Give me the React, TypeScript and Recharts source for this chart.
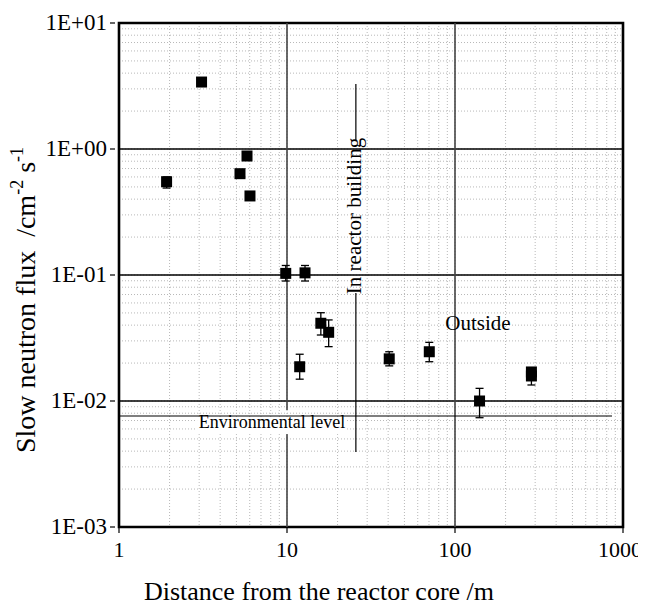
import React from 'react';
import {
    ScatterChart,
    Scatter,
    XAxis,
    YAxis,
    CartesianGrid,
    ErrorBar,
    ReferenceLine,
    ReferenceArea,
    ReferenceDot
} from 'recharts';

const FONT = '"Liberation Serif", "Times New Roman", serif';

// Measured points: distance (m), flux and the error bar bounds
const distance = [1.92, 3.1, 5.25, 5.78, 6.02, 9.83, 12.8, 11.9, 15.9, 17.7, 40.6, 70.3, 140, 285, 285];
const flux = [0.55, 3.4, 0.637, 0.88, 0.424, 0.103, 0.104, 0.0187, 0.0414, 0.0351, 0.0216, 0.0246, 0.01, 0.0158, 0.017];
const fluxLow = [0.49, 3.4, 0.637, 0.88, 0.424, 0.0896, 0.0896, 0.0149, 0.0334, 0.027, 0.019, 0.0205, 0.00737, 0.0134, 0.017];
const fluxHigh = [0.6, 3.4, 0.637, 0.88, 0.424, 0.119, 0.119, 0.0235, 0.0502, 0.044, 0.0246, 0.0292, 0.0126, 0.0183, 0.017];

// Axes
const xDecades = [1, 10, 100, 1000];
const xTickLabels = ['1', '10', '100', '1000'];
const yDecades = [0.001, 0.01, 0.1, 1, 10];
const yTickLabels = ['1E-03', '1E-02', '1E-01', '1E+00', '1E+01'];
const minorSteps = [1, 2, 3, 4, 5, 6, 7, 8, 9];

const xGrid = xDecades.slice(0, -1).flatMap((d) => minorSteps.map((m) => m * d)).concat([1000]);
const yGrid = yDecades.slice(0, -1).flatMap((d) => minorSteps.map((m) => m * d)).concat([10]);

// Annotations
const envLevel = 0.0076;
const envLineEnd = 860;
const buildingX = 25.7;
const buildingTop = 3.28;
const buildingBottom = 0.00394;
const buildingTextTop = 1.18;
const buildingTextBottom = 0.072;

const data = distance.map((x, i) => ({
    x,
    y: flux[i],
    err: [flux[i] - fluxLow[i], fluxHigh[i] - flux[i]],
}));

const decadeIndex = (list: number[], v: number) =>
    list.findIndex((d) => Math.abs(d - v) < d * 1e-6);

const XTick = (props: any) => {
    const { x, y, payload } = props;
    const i = decadeIndex(xDecades, payload.value);
    if (i < 0) return <g />;
    // the last label is kept inside the page edge
    const last = i === xDecades.length - 1;
    return (
        <g>
            <line x1={x} x2={x} y1={y} y2={y + 6} stroke="#000" strokeWidth={1.2} />
            <text
                x={last ? x + 19 : x}
                y={y + 30}
                textAnchor={last ? 'end' : 'middle'}
                fontSize={22}
                fontFamily={FONT}
                fill="#000"
            >
                {xTickLabels[i]}
            </text>
        </g>
    );
};

const YTick = (props: any) => {
    const { x, y, payload } = props;
    const i = decadeIndex(yDecades, payload.value);
    if (i < 0) return <g />;
    return (
        <g>
            <line x1={x - 9} x2={x - 4} y1={y} y2={y} stroke="#000" strokeWidth={1.2} />
            <text x={x - 12} y={y + 7} textAnchor="end" fontSize={23} fontFamily={FONT} fill="#000">
                {yTickLabels[i]}
            </text>
        </g>
    );
};

const Square = (props: any) => {
    const { cx, cy } = props;
    return <rect x={cx - 5.5} y={cy - 5.5} width={11} height={11} fill="#000" />;
};

const XTitle = (props: any) => {
    const { viewBox } = props;
    return (
        <text x={viewBox.x + viewBox.width / 2 - 52} y={viewBox.y + 73} textAnchor="middle" fontSize={26} fontFamily={FONT} fill="#000">
            Distance from the reactor core /m
        </text>
    );
};

const YTitle = (props: any) => {
    const { viewBox } = props;
    const cx = 21;
    const cy = viewBox.y + viewBox.height / 2 + 25;
    return (
        <text
            x={cx}
            y={cy}
            transform={`rotate(-90 ${cx} ${cy})`}
            textAnchor="middle"
            dominantBaseline="middle"
            fontSize={28}
            fontFamily={FONT}
            fill="#000"
            style={{ whiteSpace: 'pre' }}
        >
            {'Slow neutron flux  /cm'}
            <tspan fontSize={18} dy={-10}>-2</tspan>
            <tspan dy={10}> s</tspan>
            <tspan fontSize={18} dy={-10}>-1</tspan>
        </text>
    );
};

const EnvLabel = (props: any) => {
    const { cx, cy } = props;
    return (
        <g>
            <rect x={cx - 75} y={cy - 5} width={150} height={17} fill="#fff" />
            <text x={cx} y={cy + 6} textAnchor="middle" fontSize={18} fontFamily={FONT} fill="#000">
                Environmental level
            </text>
        </g>
    );
};

const BuildingLabel = (props: any) => {
    const { cx, cy } = props;
    return (
        <text
            x={cx}
            y={cy}
            transform={`rotate(-90 ${cx} ${cy})`}
            textAnchor="middle"
            dominantBaseline="middle"
            fontSize={21}
            fontFamily={FONT}
            fill="#000"
        >
            In reactor building
        </text>
    );
};

const OutsideLabel = (props: any) => {
    const { cx, cy } = props;
    return (
        <text x={cx} y={cy} textAnchor="middle" dominantBaseline="middle" fontSize={21} fontFamily={FONT} fill="#000">
            Outside
        </text>
    );
};

export default function App() {
    return (
        <div style={{ width: 638, height: 598 }}>
            <style>{'html,body{overflow:hidden}.recharts-surface{overflow:visible}'}</style>
            <ScatterChart width={638} height={598} margin={{ top: 15, right: 23, left: 0, bottom: 0 }}>
                <CartesianGrid stroke="#b8b8b8" strokeDasharray="1 2" />
                <XAxis
                    type="number"
                    dataKey="x"
                    scale="log"
                    domain={[1, 1000]}
                    allowDataOverflow
                    ticks={xGrid}
                    interval={0}
                    tick={<XTick />}
                    tickSize={0}
                    tickMargin={0}
                    axisLine={false}
                    tickLine={false}
                    height={79}
                    label={{ content: <XTitle /> }}
                />
                <YAxis
                    type="number"
                    dataKey="y"
                    scale="log"
                    domain={[0.001, 10]}
                    allowDataOverflow
                    ticks={yGrid}
                    interval={0}
                    tick={<YTick />}
                    tickSize={0}
                    tickMargin={0}
                    axisLine={false}
                    tickLine={false}
                    width={111}
                    label={{ content: <YTitle /> }}
                />
                <ReferenceLine y={1} stroke="#000" strokeWidth={1.3} />
                <ReferenceLine y={0.1} stroke="#000" strokeWidth={1.3} />
                <ReferenceLine y={0.01} stroke="#000" strokeWidth={1.3} />
                <ReferenceLine segment={[{ x: 10, y: 10 }, { x: 10, y: 0.00849 }]} stroke="#444" strokeWidth={1.6} />
                <ReferenceLine segment={[{ x: 10, y: 0.00547 }, { x: 10, y: 0.001 }]} stroke="#444" strokeWidth={1.6} />
                <ReferenceLine x={100} stroke="#444" strokeWidth={1.6} />
                <ReferenceLine segment={[{ x: 1, y: envLevel }, { x: envLineEnd, y: envLevel }]} stroke="#000" strokeWidth={1.2} />
                <ReferenceLine segment={[{ x: buildingX, y: buildingTop }, { x: buildingX, y: buildingTextTop }]} stroke="#000" strokeWidth={1.2} />
                <ReferenceLine segment={[{ x: buildingX, y: buildingTextBottom }, { x: buildingX, y: buildingBottom }]} stroke="#000" strokeWidth={1.2} />
                <ReferenceDot x={8.15} y={0.0068} r={0} shape={<EnvLabel />} />
                <ReferenceDot x={buildingX} y={0.294} r={0} shape={<BuildingLabel />} />
                <ReferenceDot x={137} y={0.04} r={0} shape={<OutsideLabel />} />
                <ReferenceArea x1={1} x2={1000} y1={0.001} y2={10} fill="none" stroke="#000" strokeWidth={2.6} />
                <Scatter data={data} shape={<Square />} isAnimationActive={false}>
                    <ErrorBar dataKey="err" direction="y" width={4} stroke="#000" strokeWidth={1.3} />
                </Scatter>
            </ScatterChart>
        </div>
    );
}
